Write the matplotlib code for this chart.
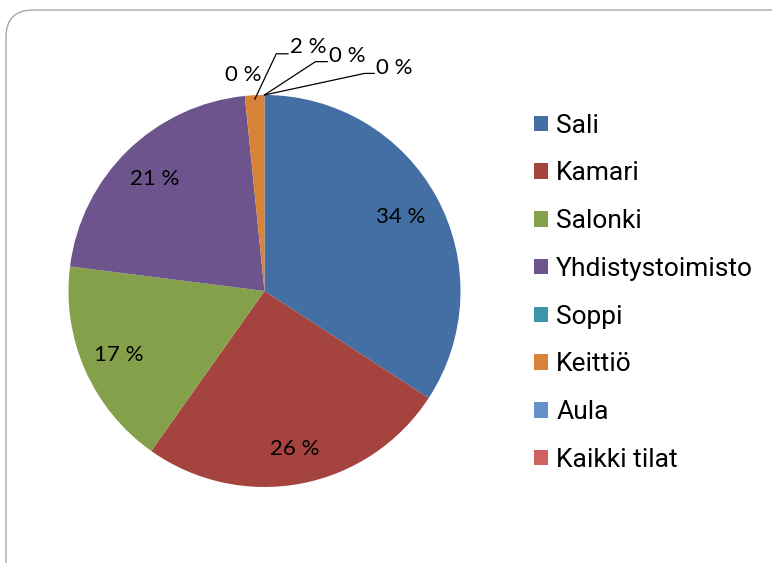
import matplotlib.pyplot as plt
import numpy as np
from matplotlib.patches import FancyBboxPatch, Patch

# data (percent of total)
categories = ["Sali", "Kamari", "Salonki", "Yhdistystoimisto",
              "Soppi", "Keittiö", "Aula", "Kaikki tilat"]
values = [34.2, 25.6, 17.2, 21.4, 0.0, 1.6, 0.0, 0.0]
colors = ["#436FA5", "#A5433F", "#85A04A", "#6D548D",
          "#3E95AA", "#D9833A", "#6690C9", "#CD6260"]
label_texts = ["34 %", "26 %", "17 %", "21 %", "0 %", "2 %", "0 %", "0 %"]

# outside label layout for the tiny slices: (text x, text y, elbow x, elbow y, end x) in axes data units
outside = {
    4: (-0.11, 1.10, None, None, None),
    5: (0.13, 1.245, 0.06, 1.21, 0.12),
    6: (0.33, 1.20, 0.26, 1.17, 0.32),
    7: (0.57, 1.14, 0.51, 1.11, 0.56),
}
# radial position of the inside labels
inside_r = [0.79, 0.82, 0.81, 0.80]

fig = plt.figure(figsize=(7.72, 5.63), dpi=100)

# rounded frame
frame = FancyBboxPatch((6 / 772, -0.2), 1.2, 1 - 10 / 563 + 0.2,
                       boxstyle="round,pad=0,rounding_size=0.035",
                       transform=fig.transFigure, facecolor="white",
                       edgecolor="#a6a6a6", linewidth=1.0,
                       mutation_aspect=772 / 563, zorder=-5)
fig.patches.append(frame)

ax = fig.add_axes([0.0887, 0.135, 0.5078, 0.6963])
ax.set_zorder(2)
wedges, _ = ax.pie(values, colors=colors, startangle=90, counterclock=False,
                   radius=1.0, wedgeprops=dict(linewidth=0))
ax.set_xlim(-1, 1)
ax.set_ylim(-1, 1)
ax.set_aspect("equal")
ax.axis("off")

lab_font = dict(family=["Lato", "DejaVu Sans"], fontsize=16, color="black")
for i, w in enumerate(wedges):
    ang = np.deg2rad((w.theta1 + w.theta2) / 2)
    if i in outside:
        tx, ty, ex, ey, endx = outside[i]
        if ex is not None:
            sx, sy = np.cos(ang), np.sin(ang)
            if i == 5:
                sx, sy = np.cos(ang) * 0.98, np.sin(ang) * 0.98
            ax.plot([sx, ex, endx], [sy, ey, ey], color="black", lw=0.9,
                    clip_on=False)
        ax.text(tx, ty, label_texts[i], ha="left" if ex is not None else "center",
                va="center", clip_on=False, **lab_font)
    else:
        r = inside_r[i]
        ax.text(r * np.cos(ang), r * np.sin(ang), label_texts[i], ha="center",
                va="center", **lab_font)

handles = [Patch(facecolor=c, edgecolor="none") for c in colors]
fig.legend(handles, categories, loc="upper left", bbox_to_anchor=(0.692, 0.798),
           frameon=False, prop=dict(family=["Roboto", "DejaVu Sans"], size=19),
           handlelength=0.53, handleheight=0.53, handletextpad=0.3,
           labelspacing=0.90, borderpad=0, borderaxespad=0)

fig.savefig("out.png", dpi=100)
